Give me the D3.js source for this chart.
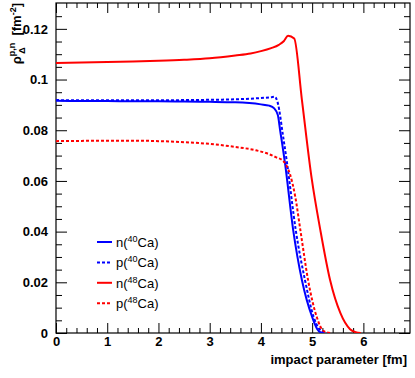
<!DOCTYPE html>
<html>
<head>
<meta charset="utf-8">
<script src="https://cdn.jsdelivr.net/npm/d3@7"></script>
<style>
  body { margin: 0; background: #fff; }
  svg { display: block; font-family: "Liberation Sans", Arial, Helvetica, sans-serif; }
  .tick text { font-size: 13px; font-weight: bold; fill: #000; }
</style>
</head>
<body>
<div id="chart"></div>
<script>
// series: impact parameter [fm] vs density
var n40x = [0, 0.5, 1, 1.5, 2, 2.5, 3, 3.5, 4, 4.16, 4.26, 4.33, 4.375, 4.47, 4.63, 4.8, 5.0, 5.1, 5.16, 5.25];
var n40y = [0.0916, 0.0915, 0.0915, 0.0914, 0.0914, 0.0913, 0.0912, 0.0910, 0.0902, 0.0897, 0.0886, 0.0860, 0.0800, 0.0670, 0.0406, 0.0209, 0.0063, 0.0015, 0.0003, 0];

var p40x = [0, 0.5, 1, 1.5, 2, 2.5, 3, 3.5, 4, 4.2, 4.27, 4.33, 4.43, 4.51, 4.68, 4.86, 5.03, 5.13, 5.21, 5.3];
var p40y = [0.0919, 0.0918, 0.0918, 0.0918, 0.0918, 0.0919, 0.0920, 0.0922, 0.0927, 0.0930, 0.0932, 0.0907, 0.0780, 0.0670, 0.0406, 0.0209, 0.0063, 0.0018, 0.0005, 0];

var n48x = [0, 0.5, 1, 1.5, 2, 2.5, 3, 3.5, 3.8, 4.0, 4.2, 4.35, 4.45, 4.53, 4.65, 4.8, 4.99, 5.16, 5.35, 5.55, 5.74, 5.85, 5.95];
var n48y = [0.1065, 0.1067, 0.1069, 0.1071, 0.1074, 0.1078, 0.1084, 0.1095, 0.1103, 0.1112, 0.1124, 0.1137, 0.1152, 0.1173, 0.1162, 0.0920, 0.0611, 0.0406, 0.0209, 0.0079, 0.0015, 0.0003, 0];

var p48x = [0, 0.5, 1, 1.5, 2, 2.5, 3, 3.5, 3.9, 4.1, 4.3, 4.43, 4.5, 4.57, 4.67, 4.77, 4.92, 5.09, 5.22, 5.35];
var p48y = [0.0757, 0.0758, 0.0759, 0.0759, 0.0757, 0.0753, 0.0746, 0.0734, 0.0721, 0.0710, 0.0693, 0.0680, 0.0660, 0.0625, 0.0538, 0.0406, 0.0209, 0.0063, 0.0008, 0];

var seriesNames = ["n", "p", "n", "p"];
var seriesNuclei = ["40", "40", "48", "48"];
var seriesColors = ["#0000ff", "#0000ff", "#ff0000", "#ff0000"];
var seriesDash = [null, "3,2", null, "3,2"];

var xTicks = [0, 1, 2, 3, 4, 5, 6];
var yTicks = [0, 0.02, 0.04, 0.06, 0.08, 0.1, 0.12];
var yTickLabels = ["0", "0.02", "0.04", "0.06", "0.08", "0.1", "0.12"];

var W = 415, H = 378;
var margin = {left: 56, right: 5, top: 3, bottom: 45};
var width = W - margin.left - margin.right;
var height = H - margin.top - margin.bottom;

var x = d3.scaleLinear().domain([0, 6.91]).range([0, width]);
var y = d3.scaleLinear().domain([0, 0.1302]).range([height, 0]);

var svg = d3.select("#chart").append("svg")
    .attr("width", W)
    .attr("height", H)
  .append("g")
    .attr("transform", "translate(" + margin.left + "," + margin.top + ")");

var xMinor = d3.range(0, 6.9, 0.2).filter(function(v) { return Math.abs(v - Math.round(v)) > 1e-6; });
var yMinor = d3.range(0, 0.13, 0.005).filter(function(v) { return Math.abs(v / 0.02 - Math.round(v / 0.02)) > 1e-6; });

function tidy(g) {
    g.select(".domain").remove();
    g.selectAll(".tick line").attr("stroke", "#000");
}

// major and minor ticks, all pointing inward
svg.append("g").attr("transform", "translate(0," + height + ")")
    .call(d3.axisBottom(x).tickValues(xTicks).tickSize(-10).tickPadding(4).tickFormat(d3.format("d")))
    .call(tidy);
svg.append("g").attr("transform", "translate(0," + height + ")")
    .call(d3.axisBottom(x).tickValues(xMinor).tickSize(-5).tickFormat(""))
    .call(tidy);
svg.append("g")
    .call(d3.axisTop(x).tickValues(xTicks).tickSize(-10).tickFormat(""))
    .call(tidy);
svg.append("g")
    .call(d3.axisTop(x).tickValues(xMinor).tickSize(-5).tickFormat(""))
    .call(tidy);

svg.append("g")
    .call(d3.axisLeft(y).tickValues(yTicks).tickSize(-11).tickPadding(8)
        .tickFormat(function(d, i) { return yTickLabels[i]; }))
    .call(tidy);
svg.append("g")
    .call(d3.axisLeft(y).tickValues(yMinor).tickSize(-6).tickFormat(""))
    .call(tidy);
svg.append("g").attr("transform", "translate(" + width + ",0)")
    .call(d3.axisRight(y).tickValues(yTicks).tickSize(-11).tickFormat(""))
    .call(tidy);
svg.append("g").attr("transform", "translate(" + width + ",0)")
    .call(d3.axisRight(y).tickValues(yMinor).tickSize(-6).tickFormat(""))
    .call(tidy);

svg.append("rect")
    .attr("width", width)
    .attr("height", height)
    .attr("fill", "none")
    .attr("stroke", "#000")
    .attr("stroke-width", 1.2);

svg.append("clipPath").attr("id", "clip")
  .append("rect").attr("width", width).attr("height", height);

var line = d3.line()
    .x(function(d) { return x(d[0]); })
    .y(function(d) { return y(d[1]); })
    .curve(d3.curveMonotoneX);

var allX = [n40x, p40x, n48x, p48x];
var allY = [n40y, p40y, n48y, p48y];

allX.forEach(function(xs, k) {
    var pts = xs.map(function(v, i) { return [v, allY[k][i]]; });
    svg.append("path")
        .datum(pts)
        .attr("clip-path", "url(#clip)")
        .attr("fill", "none")
        .attr("stroke", seriesColors[k])
        .attr("stroke-width", 2)
        .attr("stroke-dasharray", seriesDash[k])
        .attr("d", line);
});

// legend
var legend = svg.append("g").attr("transform", "translate(41,239)");
seriesNames.forEach(function(name, i) {
    var row = legend.append("g").attr("transform", "translate(0," + (i * 20.4) + ")");
    row.append("line")
        .attr("x1", 0).attr("x2", 15)
        .attr("stroke", seriesColors[i])
        .attr("stroke-width", 2)
        .attr("stroke-dasharray", seriesDash[i]);
    var t = row.append("text")
        .attr("x", 19).attr("y", 5)
        .style("font-size", "13px");
    t.append("tspan").text(name + "(");
    t.append("tspan").attr("dy", -5).style("font-size", "9px").text(seriesNuclei[i]);
    t.append("tspan").attr("dy", 5).text("Ca)");
});

// axis titles
svg.append("text")
    .attr("x", width - 3)
    .attr("y", height + 31)
    .attr("text-anchor", "end")
    .style("font-size", "13px")
    .style("font-weight", "bold")
    .text("impact parameter [fm]");

var yt = svg.append("text")
    .attr("transform", "translate(" + (21 - margin.left) + ",0) rotate(-90)")
    .attr("text-anchor", "end")
    .style("font-size", "13px")
    .style("font-weight", "bold");
yt.append("tspan").text("ρ");
yt.append("tspan").attr("dy", -6).style("font-size", "9px").text("p,n");
yt.append("tspan").attr("dx", -11).attr("dy", 10).style("font-size", "9px").text("Δ");
yt.append("tspan").attr("dx", 8).attr("dy", -4).text(" [fm");
yt.append("tspan").attr("dy", -5).style("font-size", "9px").text("-2");
yt.append("tspan").attr("dy", 5).text("]");
</script>
</body>
</html>
